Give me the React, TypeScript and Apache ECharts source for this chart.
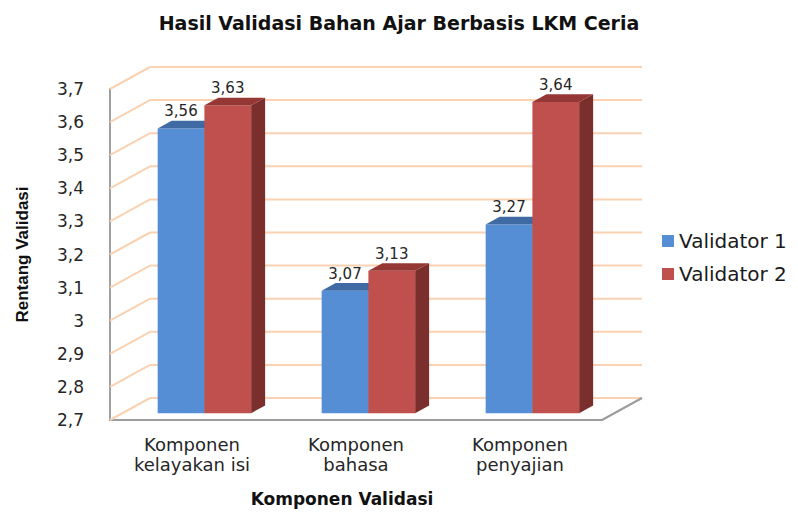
import React, { useEffect, useRef } from 'react';
import * as echarts from 'echarts';

const categories = ['Komponen\nkelayakan isi', 'Komponen\nbahasa', 'Komponen\npenyajian'];
const seriesNames = ['Validator 1', 'Validator 2'];
const validator1 = [3.56, 3.07, 3.27];
const validator2 = [3.63, 3.13, 3.64];
const yTicks = [2.7, 2.8, 2.9, 3.0, 3.1, 3.2, 3.3, 3.4, 3.5, 3.6, 3.7];

const Y_MIN = 2.7;
const Y_MAX = 3.7;
const Y_STEP = 0.1;

// 3D look
const DX = 40;
const DY = -22;
const F0 = 0.31;
const F1 = 0.66;
const BAR_RATIO = 0.285;
const GRID_COLOR = '#FAD2B2';
const FONT = '"DejaVu Sans", Verdana, sans-serif';

const faceColors = [
  { front: '#558ED5', top: '#3F6AA3', side: '#2F5A8C' },
  { front: '#C0504D', top: '#953735', side: '#7A2F2D' },
];

const fmtTick = (v: number) => String(Math.round(v * 10) / 10).replace('.', ',');
const fmtVal = (v: number) => v.toFixed(2).replace('.', ',');

function makeBarRender(s: number) {
  return (params: any, api: any) => {
    const c = api.value(0);
    const v = api.value(1);
    const base = api.coord([c, Y_MIN]);
    const top = api.coord([c, v]);
    const catW = api.size([1, 0])[0];
    const bw = catW * BAR_RATIO;
    const fdx = DX * F0;
    const fdy = DY * F0;
    const ddx = DX * (F1 - F0);
    const ddy = DY * (F1 - F0);
    const xl = base[0] - bw + s * bw + fdx;
    const xr = xl + bw;
    const yb = base[1] + fdy;
    const yt = top[1] + fdy;
    const col = faceColors[s];
    return {
      type: 'group',
      children: [
        {
          type: 'polygon',
          shape: { points: [[xr, yt], [xr + ddx, yt + ddy], [xr + ddx, yb + ddy], [xr, yb]] },
          style: { fill: col.side },
        },
        {
          type: 'rect',
          shape: { x: xl, y: yt, width: bw, height: yb - yt },
          style: { fill: col.front },
        },
        {
          type: 'polygon',
          shape: { points: [[xl, yt], [xr, yt], [xr + ddx, yt + ddy], [xl + ddx, yt + ddy]] },
          style: { fill: col.top },
        },
        {
          type: 'text',
          style: {
            text: fmtVal(v),
            x: (xl + xr) / 2,
            y: yt + ddy - 2,
            align: 'center',
            verticalAlign: 'bottom',
            fontSize: 15,
            fontFamily: FONT,
            fill: '#262626',
          },
        },
      ],
    };
  };
}

function wallRender(params: any, api: any) {
  const v = api.value(1);
  const cs = params.coordSys;
  const y = api.coord([0, v])[1];
  const x0 = cs.x;
  const x1 = cs.x + cs.width;
  const children: any[] = [
    { type: 'line', shape: { x1: x0, y1: y, x2: x0 + DX, y2: y + DY }, style: { stroke: GRID_COLOR, lineWidth: 2 } },
    { type: 'line', shape: { x1: x0 + DX, y1: y + DY, x2: x1 + DX, y2: y + DY }, style: { stroke: GRID_COLOR, lineWidth: 2 } },
  ];
  if (Math.abs(v - Y_MIN) < 1e-9) {
    children.push({
      type: 'line',
      shape: { x1: x1, y1: y, x2: x1 + DX, y2: y + DY },
      style: { stroke: '#9C9C9C', lineWidth: 2 },
    });
  }
  return { type: 'group', children };
}

export default function App() {
  const ref = useRef<HTMLDivElement>(null);
  useEffect(() => {
    if (!ref.current) return;
    const chart = echarts.init(ref.current, undefined, { renderer: 'svg' });
    chart.setOption({
      animation: false,
      backgroundColor: '#FFFFFF',
      textStyle: { fontFamily: FONT },
      title: {
        text: 'Hasil Validasi Bahan Ajar Berbasis LKM Ceria',
        left: 'center',
        top: 8,
        textStyle: { fontSize: 19, fontWeight: 'bold', color: '#111111', fontFamily: FONT },
      },
      legend: {
        data: seriesNames,
        orient: 'vertical',
        left: 657,
        top: 226,
        icon: 'rect',
        itemWidth: 12,
        itemHeight: 12,
        itemGap: 13,
        textStyle: { fontSize: 20, color: '#1a1a1a', fontFamily: FONT },
      },
      grid: { left: 110, top: 89, width: 492, height: 337, containLabel: false },
      xAxis: {
        type: 'category',
        data: categories,
        axisLine: { show: true, lineStyle: { color: '#9C9C9C', width: 2 } },
        axisTick: { show: false },
        splitLine: { show: false },
        axisLabel: { fontSize: 18, lineHeight: 20, margin: 14, color: '#262626', fontFamily: FONT },
        name: 'Komponen Validasi',
        nameLocation: 'middle',
        nameGap: 70,
        nameTextStyle: { fontSize: 17, fontWeight: 'bold', color: '#111111', fontFamily: FONT, padding: [0, 28, 0, 0] },
      },
      yAxis: {
        type: 'value',
        min: Y_MIN,
        max: Y_MAX,
        interval: Y_STEP,
        axisLine: { show: true, lineStyle: { color: '#A0A0A0', width: 2 } },
        axisTick: { show: false },
        splitLine: { show: false },
        axisLabel: { formatter: fmtTick, fontSize: 17, margin: 26, color: '#262626', fontFamily: FONT },
        name: 'Rentang Validasi',
        nameLocation: 'middle',
        nameRotate: 90,
        nameGap: 79,
        nameTextStyle: {
          fontSize: 17,
          fontWeight: 'bold',
          color: '#111111',
          fontFamily: '"Liberation Sans", Arial, sans-serif',
        },
      },
      series: [
        {
          type: 'custom',
          name: 'walls',
          clip: false,
          silent: true,
          z: 1,
          renderItem: wallRender,
          encode: { x: 0, y: 1 },
          data: yTicks.map((t) => [0, t]),
        },
        {
          type: 'custom',
          name: seriesNames[0],
          clip: false,
          z: 2,
          itemStyle: { color: faceColors[0].front },
          renderItem: makeBarRender(0),
          encode: { x: 0, y: 1 },
          data: validator1.map((v, i) => [i, v]),
        },
        {
          type: 'custom',
          name: seriesNames[1],
          clip: false,
          z: 3,
          itemStyle: { color: faceColors[1].front },
          renderItem: makeBarRender(1),
          encode: { x: 0, y: 1 },
          data: validator2.map((v, i) => [i, v]),
        },
      ],
    });
    return () => chart.dispose();
  }, []);
  return (
    <div
      ref={ref}
      style={{ position: 'fixed', left: 0, top: 0, width: 798, height: 512, background: '#fff' }}
    />
  );
}
